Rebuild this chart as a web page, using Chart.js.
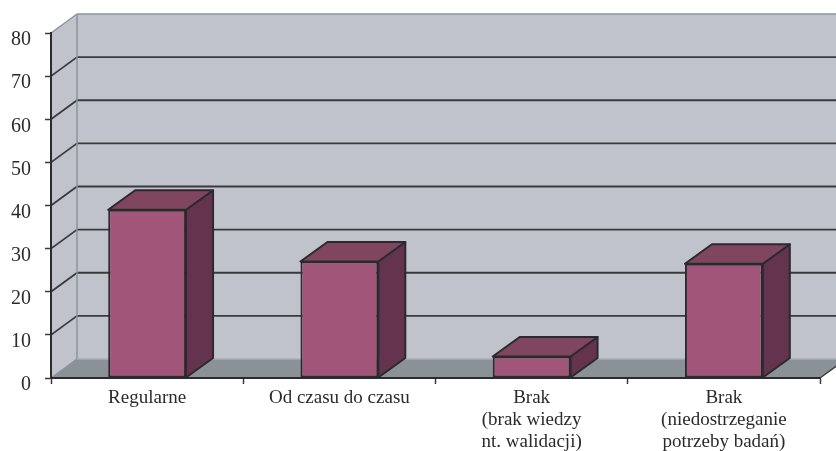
<!DOCTYPE html>
<html lang="pl">
<head>
<meta charset="utf-8">
<title>Badania walidacyjne</title>
<script src="https://cdn.jsdelivr.net/npm/chart.js@4"></script>
<style>
  html, body { margin: 0; padding: 0; background: #fff; }
  #wrap { width: 836px; height: 451px; }
</style>
</head>
<body>
<div id="wrap"><canvas id="myChart" width="836" height="451"></canvas></div>
<script>
const categories = [
    'Regularne',
    'Od czasu do czasu',
    ['Brak', '(brak wiedzy', 'nt. walidacji)'],
    ['Brak', '(niedostrzeganie', 'potrzeby badań)']
];
const values = [39, 27, 5, 26.5];
const yMin = 0;
const yMax = 80;
const yStep = 10;

// Przesunięcie głębi wykresu 3D
const depthX = 26;
const depthY = -19;
const barDepthX = 27;
const barDepthY = -19.5;

const kolorSciany = '#c0c3cb';
const kolorPodlogi = '#8a9298';
const kolorKrawedzi = '#8b949c';
const kolorLinii = '#3a3a3e';
const kolorTekstu = '#2b2b2b';

function wielokat(c, punkty, fill, stroke, lineWidth) {
    c.beginPath();
    punkty.forEach((p, i) => i ? c.lineTo(p[0], p[1]) : c.moveTo(p[0], p[1]));
    c.closePath();
    if (fill) {
        c.fillStyle = fill;
        c.fill();
    }
    if (stroke) {
        c.strokeStyle = stroke;
        c.lineWidth = lineWidth;
        c.lineJoin = 'round';
        c.stroke();
    }
}

function linia(c, x1, y1, x2, y2, color, width) {
    c.beginPath();
    c.moveTo(x1, y1);
    c.lineTo(x2, y2);
    c.strokeStyle = color;
    c.lineWidth = width;
    c.stroke();
}

// Ściany, podłoga i linie siatki za słupkami
const sciany3d = {
    id: 'sciany3d',
    beforeDraw(chart) {
        const c = chart.ctx;
        const { left, right, top, bottom } = chart.chartArea;
        const y = chart.scales.y;
        const bx = left + depthX;
        const rx = right + depthX;

        c.save();
        wielokat(c, [[bx, top + depthY], [rx, top + depthY], [rx, bottom + depthY], [bx, bottom + depthY]], kolorSciany);
        wielokat(c, [[left, top], [bx, top + depthY], [bx, bottom + depthY], [left, bottom]], kolorSciany);
        wielokat(c, [[left, bottom], [bx, bottom + depthY], [rx, bottom + depthY], [right, bottom]], kolorPodlogi);

        for (let v = yMin + yStep; v < yMax; v += yStep) {
            const py = y.getPixelForValue(v);
            linia(c, left, py, bx, py + depthY, kolorLinii, 1.8);
            linia(c, bx, py + depthY, rx, py + depthY, kolorLinii, 1.8);
        }

        linia(c, left, top, bx, top + depthY, kolorKrawedzi, 1.5);
        linia(c, bx, top + depthY, rx, top + depthY, kolorKrawedzi, 1.5);
        linia(c, bx, top + depthY, bx, bottom + depthY, kolorKrawedzi, 1.5);
        linia(c, left, bottom, bx, bottom + depthY, kolorKrawedzi, 1.5);
        linia(c, bx, bottom + depthY, rx, bottom + depthY, '#a9aeb5', 1.5);
        linia(c, right, bottom, rx, bottom + depthY, kolorLinii, 1.5);
        c.restore();
    }
};

// Boczna i górna ściana każdego słupka
const slupki3d = {
    id: 'slupki3d',
    afterDatasetsDraw(chart) {
        const c = chart.ctx;
        c.save();
        chart.getDatasetMeta(0).data.forEach(bar => {
            const { x, y, base, width } = bar.getProps(['x', 'y', 'base', 'width'], true);
            const l = x - width / 2;
            const r = x + width / 2;
            wielokat(c, [[r, y], [r + barDepthX, y + barDepthY], [r + barDepthX, base + barDepthY], [r, base]], '#64334e', '#2b2a2e', 2);
            wielokat(c, [[l, y], [l + barDepthX, y + barDepthY], [r + barDepthX, y + barDepthY], [r, y]], '#81465f', '#2b2a2e', 2);
        });
        c.restore();
    }
};

new Chart(document.getElementById('myChart').getContext('2d'), {
    type: 'bar',
    data: {
        labels: categories,
        datasets: [{
            data: values,
            backgroundColor: '#a05579',
            borderColor: '#2b2a2e',
            borderWidth: 2,
            borderSkipped: false,
            barPercentage: 0.405,
            categoryPercentage: 1
        }]
    },
    options: {
        responsive: false,
        animation: false,
        layout: { padding: { top: 33, right: 16, left: 0, bottom: 0 } },
        plugins: {
            legend: { display: false },
            title: { display: false },
            tooltip: { enabled: false }
        },
        scales: {
            x: {
                afterFit(scale) { scale.height = 73; },
                grid: {
                    drawOnChartArea: false,
                    tickLength: 6,
                    tickColor: kolorLinii,
                    tickWidth: 1.5
                },
                border: { color: '#2b2a2e', width: 2 },
                ticks: {
                    color: kolorTekstu,
                    maxRotation: 0,
                    autoSkip: false,
                    padding: 3,
                    font: { family: '"Liberation Serif"', size: 19, lineHeight: 1.16 }
                }
            },
            y: {
                min: yMin,
                max: yMax,
                afterFit(scale) { scale.width = 51; },
                grid: {
                    drawOnChartArea: false,
                    tickLength: 6,
                    tickColor: kolorLinii,
                    tickWidth: 1.5
                },
                border: { color: '#2b2a2e', width: 2 },
                ticks: {
                    stepSize: yStep,
                    color: kolorTekstu,
                    padding: 14,
                    labelOffset: 7,
                    font: { family: '"Liberation Serif"', size: 20 }
                }
            }
        }
    },
    plugins: [sciany3d, slupki3d]
});
</script>
</body>
</html>
